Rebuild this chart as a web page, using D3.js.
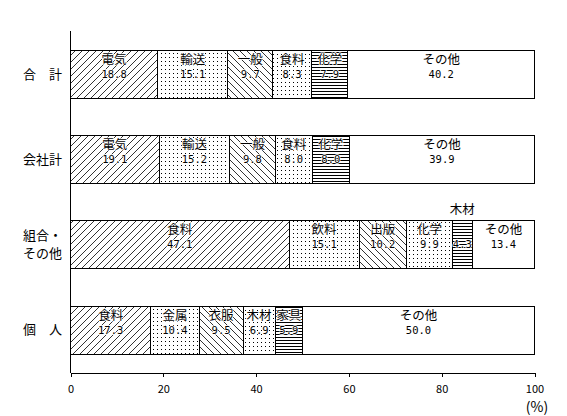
<!DOCTYPE html>
<html>
<head>
<meta charset="utf-8">
<script src="https://cdn.jsdelivr.net/npm/d3@7"></script>
<style>
  body { margin: 0; background: #fff; }
  svg text { font-family: "Noto Sans CJK JP", "Noto Sans", sans-serif; fill: #000; }
  svg text.val { font-family: "DejaVu Sans Mono", monospace; }
</style>
</head>
<body>
<div id="chart"></div>
<script>
// カテゴリ（行）
const categories = ["合計", "会社計", "組合・その他", "個人"]
const categoryLines = [["合　計"], ["会社計"], ["組合・", "その他"], ["個　人"]]
// 各行の内訳名と構成比(%)
const segNames = [
  ["電気", "輸送", "一般", "食料", "化学", "その他"],
  ["電気", "輸送", "一般", "食料", "化学", "その他"],
  ["食料", "飲料", "出版", "化学", "木材", "その他"],
  ["食料", "金属", "衣服", "木材", "家具", "その他"]
]
const segValues = [
  [18.8, 15.1, 9.7, 8.3, 7.9, 40.2],
  [19.1, 15.2, 9.8, 8.0, 8.0, 39.9],
  [47.1, 15.1, 10.2, 9.9, 4.3, 13.4],
  [17.3, 10.4, 9.5, 6.9, 5.9, 50.0]
]
const xTicks = [0, 20, 40, 60, 80, 100]

const width = 567, height = 416
const svg = d3.select("#chart").append("svg")
  .attr("width", width).attr("height", height)

const x = d3.scaleLinear().domain([0, 100]).range([70.5, 534.5])
const y = d3.scaleBand().domain(categories).range([31, 372])
  .paddingInner(0.44).paddingOuter(0.22)

// 模様
const defs = svg.append("defs")
function hatch(id, d, size) {
  const p = defs.append("pattern").attr("id", id)
    .attr("patternUnits", "userSpaceOnUse").attr("width", size).attr("height", size)
  p.append("rect").attr("width", size).attr("height", size).attr("fill", "#fff")
  p.append("path").attr("d", d).attr("stroke", "#000").attr("stroke-width", 0.8)
    .attr("fill", "none").attr("shape-rendering", "crispEdges")
  return p
}
hatch("p0", "M0,7 L7,0 M-1,1 L1,-1 M6,8 L8,6", 7)
hatch("p2", "M0,0 L7,7 M-1,6 L1,8 M6,-1 L8,1", 7)
const dots = defs.append("pattern").attr("id", "p1")
  .attr("patternUnits", "userSpaceOnUse").attr("width", 4).attr("height", 4)
dots.append("rect").attr("width", 4).attr("height", 4).attr("fill", "#fff")
dots.append("rect").attr("x", 1).attr("y", 1).attr("width", 1).attr("height", 1).attr("fill", "#000")
const dots2 = defs.append("pattern").attr("id", "p3")
  .attr("patternUnits", "userSpaceOnUse").attr("width", 4).attr("height", 4)
dots2.append("rect").attr("width", 4).attr("height", 4).attr("fill", "#fff")
dots2.append("rect").attr("x", 1).attr("y", 2).attr("width", 1).attr("height", 1).attr("fill", "#000")
const hl = defs.append("pattern").attr("id", "p4")
  .attr("patternUnits", "userSpaceOnUse").attr("width", 4).attr("height", 3)
hl.append("rect").attr("width", 4).attr("height", 3).attr("fill", "#fff")
hl.append("rect").attr("y", 1).attr("width", 4).attr("height", 1).attr("fill", "#000")
const fills = ["url(#p0)", "url(#p1)", "url(#p2)", "url(#p3)", "url(#p4)", "#fff"]

// 積み上げデータ
const rows = categories.map((c, i) => {
  let acc = 0
  return segNames[i].map((n, j) => {
    const s = { cat: c, name: n, value: segValues[i][j], x0: acc, x1: acc + segValues[i][j], k: j }
    acc += segValues[i][j]
    return s
  })
})

const g = svg.append("g")
rows.forEach(row => {
  const rg = g.append("g")
  rg.selectAll("rect").data(row).join("rect")
    .attr("x", d => x(d.x0)).attr("y", d => Math.round(y(d.cat)) + 0.5)
    .attr("width", d => x(d.x1) - x(d.x0)).attr("height", Math.round(y.bandwidth()))
    .attr("fill", d => fills[d.k]).attr("stroke", "#000").attr("stroke-width", 1)
    .attr("shape-rendering", "crispEdges")

  row.forEach(d => {
    const cx = (x(d.x0) + x(d.x1)) / 2
    const top = Math.round(y(d.cat))
    const w = x(d.x1) - x(d.x0)
    const above = w < 24
    rg.append("text").attr("x", cx).attr("y", above ? top - 6 : top + 14)
      .attr("text-anchor", "middle").attr("font-size", 12.5)
      .attr("stroke", above ? "none" : "#fff").attr("stroke-width", 1.5).attr("paint-order", "stroke")
      .text(d.name)
    rg.append("text").attr("class", "val").attr("x", cx).attr("y", top + 28)
      .attr("text-anchor", "middle").attr("font-size", 10.5)
      .attr("stroke", "#fff").attr("stroke-width", 1.5).attr("paint-order", "stroke")
      .text(d.value.toFixed(1))
  })
})

// 軸
const xAxis = svg.append("g").attr("transform", "translate(0,372.5)")
  .call(d3.axisBottom(x).tickValues(xTicks).tickSize(4).tickSizeOuter(0))
xAxis.select(".domain").attr("stroke", "#000").attr("shape-rendering", "crispEdges")
xAxis.selectAll(".tick line").attr("stroke", "#000").attr("shape-rendering", "crispEdges")
xAxis.selectAll(".tick text").attr("font-size", 11).attr("dy", "1.2em")
  .attr("font-family", "\"DejaVu Sans Mono\", monospace")

svg.append("line").attr("x1", 70.5).attr("x2", 70.5).attr("y1", 31).attr("y2", 373)
  .attr("stroke", "#000").attr("shape-rendering", "crispEdges")

categories.forEach((c, i) => {
  const lines = categoryLines[i]
  const cy = y(c) + y.bandwidth() / 2
  lines.forEach((t, li) => {
    svg.append("text").attr("x", 62).attr("text-anchor", "end")
      .attr("y", cy + 5 + (li - (lines.length - 1) / 2) * 18)
      .attr("font-size", 13).text(t)
  })
})

svg.append("text").attr("x", 537).attr("y", 412).attr("text-anchor", "middle")
  .attr("font-size", 14).text("(%)")
</script>
</body>
</html>
